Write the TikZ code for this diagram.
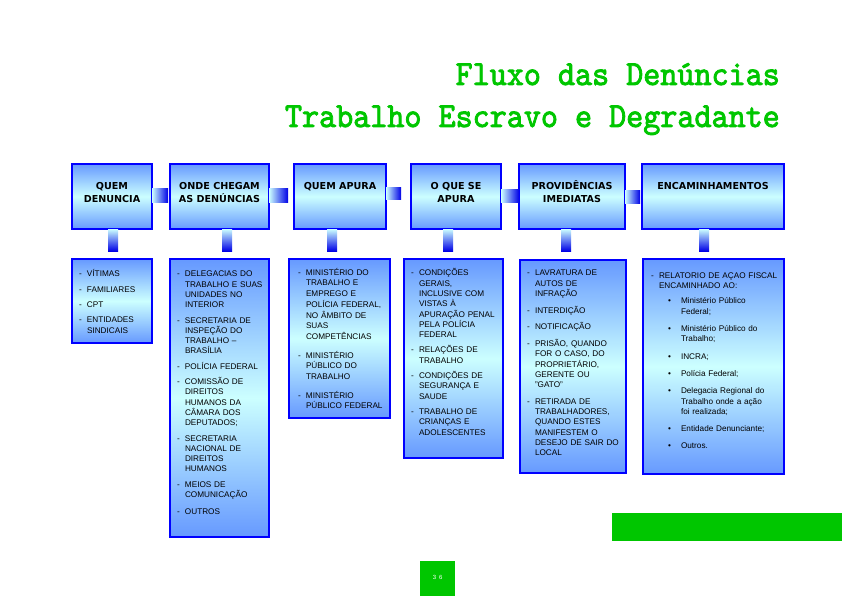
\documentclass[tikz,border=0pt]{standalone}
\usepackage{fontspec}
\setmainfont{Liberation Sans}
\newfontfamily\headfont{DejaVu Sans}
\newfontfamily\titlefont{lmmono10-regular.otf}[FakeBold=2.5]
\usetikzlibrary{%
  positioning,% wg. " of "
  calc%
}

\definecolor{flowgreen}{RGB}{0,198,0}
\definecolor{boxblue}{RGB}{102,153,255}
\definecolor{boxcyan}{RGB}{204,255,255}
\definecolor{edgeblue}{RGB}{0,0,255}
\definecolor{barblue}{RGB}{0,0,230}

\newcommand{\dashitem}[1]{\par\hangindent=8pt\hangafter=1\noindent\makebox[8pt][l]{\rule{0pt}{9pt}-}#1\par\addvspace{5pt}}
\newcommand{\dotitem}[1]{\par\hangindent=30pt\hangafter=1\noindent\hspace*{17pt}\makebox[13pt][l]{\rule{0pt}{9pt}•}#1\par\addvspace{7pt}}

\tikzset{
  headbox/.style={draw=edgeblue, line width=1.5pt, top color=boxblue, bottom color=boxblue, middle color=boxcyan,
    minimum height=65pt, inner sep=0pt, outer sep=0pt},
  bodybox/.style={draw=edgeblue, line width=1.5pt, top color=boxblue, bottom color=boxblue, middle color=boxcyan,
    inner sep=0pt, outer sep=0pt},
  headtext/.style={font=\headfont\bfseries\fontsize{9.6}{12.7}\selectfont, align=center, inner sep=0pt, anchor=north},
  bodytext/.style={font=\fontsize{8.2}{10.3}\selectfont, text width=#1, align=left, inner sep=0pt, outer sep=0pt},
  titletext/.style={font=\titlefont\fontsize{32.5}{34}\selectfont, text=flowgreen, inner sep=0pt, anchor=base east},
  hbar/.style={left color=boxcyan, right color=barblue},
  vbar/.style={top color=boxcyan, bottom color=barblue}
}

\begin{document}
\begin{tikzpicture}[x=1pt,y=-1pt]
  \useasboundingbox (0,0) rectangle (842,596);

  %title
  \node[titletext] (ttl1) at (780,85) {\scalebox{1}[1.08]{Fluxo das Denúncias}};
  \node[titletext] (ttl2) at (780,127) {\scalebox{1}[1.08]{Trabalho Escravo e Degradante}};

  %headers
  \node[headbox, minimum width=80pt, anchor=north west] (h1) at (72,164) {};
  \node[headbox, minimum width=99pt] (h2) [right=18pt of h1] {};
  \node[headbox, minimum width=92pt] (h3) [right=25pt of h2] {};
  \node[headbox, minimum width=90pt] (h4) [right=25pt of h3] {};
  \node[headbox, minimum width=106pt] (h5) [right=18pt of h4] {};
  \node[headbox, minimum width=142pt] (h6) [right=17pt of h5] {};

  \node[headtext] (h1t) [below=15.5pt of h1.north] {\rule{0pt}{10pt}QUEM\\DENUNCIA};
  \node[headtext] (h2t) [below=15.5pt of h2.north] {\rule{0pt}{10pt}ONDE CHEGAM\\AS DENÚNCIAS};
  \node[headtext] (h3t) [below=15.5pt of h3.north] {\rule{0pt}{10pt}QUEM APURA};
  \node[headtext] (h4t) [below=15.5pt of h4.north] {\rule{0pt}{10pt}O QUE SE\\APURA};
  \node[headtext] (h5t) [below=15.5pt of h5.north] {\rule{0pt}{10pt}PROVIDÊNCIAS\\IMEDIATAS};
  \node[headtext] (h6t) [below=15.5pt of h6.north] {\rule{0pt}{10pt}ENCAMINHAMENTOS};

  %columns
  \node[bodybox, minimum width=80pt, minimum height=84pt, below=30pt of h1.south west, anchor=north west] (b1) {};
  \node[bodybox, minimum width=99pt, minimum height=278pt, below=30pt of h2.south west, anchor=north west] (b2) {};
  \node[bodybox, minimum width=101pt, minimum height=159pt, below=30pt of h3.south west, anchor=north west, xshift=-5pt] (b3) {};
  \node[bodybox, minimum width=99pt, minimum height=199pt, below=30pt of h4.south west, anchor=north west, xshift=-7pt] (b4) {};
  \node[bodybox, minimum width=106pt, minimum height=213pt, below=31pt of h5.south west, anchor=north west, xshift=1pt] (b5) {};
  \node[bodybox, minimum width=141pt, minimum height=215pt, below=30pt of h6.south west, anchor=north west, xshift=1pt] (b6) {};

  %connectors
  \shade[hbar] ([yshift=8pt]h1.east) rectangle ++(16,14);
  \shade[hbar] ([yshift=8pt]h2.east) rectangle ++(19,14);
  \shade[hbar] ([yshift=9pt]h3.east) rectangle ++(15,12);
  \shade[hbar] ([yshift=7pt]h4.east) rectangle ++(18,13);
  \shade[hbar] ([yshift=6pt]h5.east) rectangle ++(15,13);
  \shade[vbar] ([xshift=36pt]h1.south west) rectangle ([xshift=46pt,yshift=8pt]b1.north west);
  \shade[vbar] ([xshift=52pt]h2.south west) rectangle ([xshift=62pt,yshift=8pt]b2.north west);
  \shade[vbar] ([xshift=33pt]h3.south west) rectangle ([xshift=48pt,yshift=8pt]b3.north west);
  \shade[vbar] ([xshift=32pt]h4.south west) rectangle ([xshift=49pt,yshift=8pt]b4.north west);
  \shade[vbar] ([xshift=42pt]h5.south west) rectangle ([xshift=51pt,yshift=9pt]b5.north west);
  \shade[vbar] ([xshift=57pt]h6.south west) rectangle ([xshift=66pt,yshift=8pt]b6.north west);

  %column texts
  \node[bodytext=70pt, below right=7.5pt and 7pt of b1.north west] (t1) {%
    \dashitem{VÍTIMAS}
    \dashitem{FAMILIARES}
    \dashitem{CPT}
    \dashitem{ENTIDADES\newline SINDICAIS}};
  \node[bodytext=90pt, below right=7.5pt and 7pt of b2.north west] (t2) {%
    \dashitem{DELEGACIAS DO\newline TRABALHO E SUAS\newline UNIDADES NO\newline INTERIOR}
    \dashitem{SECRETARIA DE\newline INSPEÇÃO DO\newline TRABALHO –\newline BRASÍLIA}
    \dashitem{POLÍCIA FEDERAL}
    \dashitem{COMISSÃO DE\newline DIREITOS\newline HUMANOS DA\newline CÂMARA DOS\newline DEPUTADOS;}
    \dashitem{SECRETARIA\newline NACIONAL DE\newline DIREITOS\newline HUMANOS}
    \dashitem{MEIOS DE\newline COMUNICAÇÃO}
    \dashitem{OUTROS}};
  \node[bodytext=90pt, below right=5.5pt and 9pt of b3.north west,
    font=\fontsize{8.2}{10.7}\selectfont] (t3) {%
    \dashitem{MINISTÉRIO DO\newline TRABALHO E\newline EMPREGO E\newline POLÍCIA FEDERAL,\newline NO ÂMBITO DE\newline SUAS\newline COMPETÊNCIAS}
    \vspace{3pt}
    \dashitem{MINISTÉRIO\newline PÚBLICO DO\newline TRABALHO}
    \vspace{3pt}
    \dashitem{MINISTÉRIO\newline PÚBLICO FEDERAL}};
  \node[bodytext=90pt, below right=6.5pt and 7pt of b4.north west] (t4) {%
    \dashitem{CONDIÇÕES\newline GERAIS,\newline INCLUSIVE COM\newline VISTAS À\newline APURAÇÃO PENAL\newline PELA POLÍCIA\newline FEDERAL}
    \dashitem{RELAÇÕES DE\newline TRABALHO}
    \dashitem{CONDIÇÕES DE\newline SEGURANÇA E\newline SAUDE}
    \dashitem{TRABALHO DE\newline CRIANÇAS E\newline ADOLESCENTES}};
  \node[bodytext=97pt, below right=5.5pt and 7pt of b5.north west] (t5) {%
    \dashitem{LAVRATURA DE\newline AUTOS DE\newline INFRAÇÃO}
    \dashitem{INTERDIÇÃO}
    \dashitem{NOTIFICAÇÃO}
    \dashitem{PRISÃO, QUANDO\newline FOR O CASO, DO\newline PROPRIETÁRIO,\newline GERENTE OU\newline "GATO”}
    \vspace{1pt}
    \dashitem{RETIRADA DE\newline TRABALHADORES,\newline QUANDO ESTES\newline MANIFESTEM O\newline DESEJO DE SAIR DO\newline LOCAL}};
  \node[bodytext=132pt, below right=9pt and 8pt of b6.north west] (t6) {%
    \dashitem{RELATORIO DE AÇAO FISCAL\newline ENCAMINHADO AO:}
    \dotitem{Ministério Público\newline Federal;}
    \dotitem{Ministério Público do\newline Trabalho;}
    \dotitem{INCRA;}
    \dotitem{Polícia Federal;}
    \dotitem{Delegacia Regional do\newline Trabalho onde a ação\newline foi realizada;}
    \dotitem{Entidade Denunciante;}
    \dotitem{Outros.}};

  %footer
  \node[fill=flowgreen, minimum width=230pt, minimum height=28pt, inner sep=0pt, anchor=north west] (bar) at (612,513) {};
  \node[fill=flowgreen, minimum size=35pt, inner sep=0pt, anchor=north west, text=white,
    font=\fontsize{6}{7}\selectfont] (pg) at (420,561) {\raisebox{3pt}{3\hspace{3pt}6}};
\end{tikzpicture}
\end{document}
